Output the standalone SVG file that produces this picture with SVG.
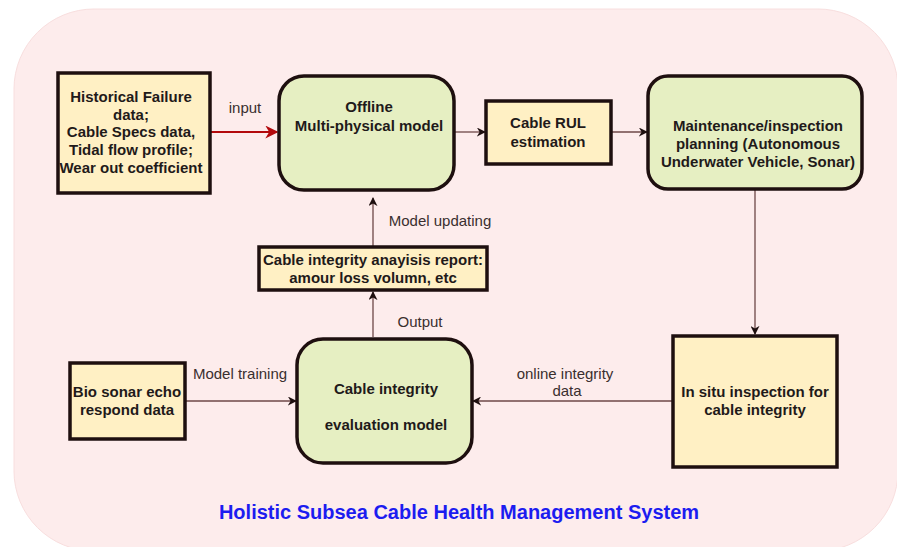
<svg xmlns="http://www.w3.org/2000/svg" width="897" height="547" viewBox="0 0 897 547">
<defs>
<style>
.bg{fill:#fdecec;stroke:#f8dede;stroke-width:1}
.box{fill:#fff0c4;stroke:#1e0f0f;stroke-width:3.5}
.rbox{fill:#e6efc2;stroke:#1e0f0f;stroke-width:3.5}
.t{font-family:"Liberation Sans",Arial,sans-serif;font-size:15px;font-weight:bold;fill:#1f1a1a;text-anchor:middle}
.l{font-family:"Liberation Sans",Arial,sans-serif;font-size:15px;fill:#3a2f2f;text-anchor:middle}
.c{fill:none;stroke:#6e4848;stroke-width:1.3}
.title{font-family:"Liberation Sans",Arial,sans-serif;font-size:20px;font-weight:bold;fill:#1c1cf0;text-anchor:middle}
</style>
<marker id="ah" viewBox="0 0 10 10" refX="9" refY="5" markerWidth="9" markerHeight="9" markerUnits="userSpaceOnUse" orient="auto">
<path d="M0,0 L10,5 L0,10 L3,5 Z" fill="#1e0f0f"/>
</marker>
<marker id="ahr" viewBox="0 0 10 10" refX="9" refY="5" markerWidth="13" markerHeight="13" markerUnits="userSpaceOnUse" orient="auto">
<path d="M0,0 L10,5 L0,10 L3,5 Z" fill="#b3090c"/>
</marker>
</defs>
<rect class="bg" x="14" y="9" width="884" height="542" rx="80" ry="80"/>
<g id="connectors">
<line x1="211" y1="132" x2="277" y2="132" stroke="#b3090c" stroke-width="2.2" marker-end="url(#ahr)"/>
<line class="c" x1="455" y1="132" x2="485" y2="132" marker-end="url(#ah)"/>
<line class="c" x1="612" y1="132" x2="647" y2="132" marker-end="url(#ah)"/>
<line class="c" x1="755" y1="190" x2="755" y2="334" marker-end="url(#ah)"/>
<line class="c" x1="672" y1="401" x2="473" y2="401" marker-end="url(#ah)"/>
<line class="c" x1="186" y1="401" x2="296" y2="401" marker-end="url(#ah)"/>
<line class="c" x1="373" y1="337" x2="373" y2="292" marker-end="url(#ah)"/>
<line class="c" x1="373" y1="246" x2="373" y2="198" marker-end="url(#ah)"/>
<text class="l" x="245" y="113">input</text>
<text class="l" x="440" y="226">Model updating</text>
<text class="l" x="420" y="327">Output</text>
<text class="l" x="240" y="379">Model training</text>
<text class="l" x="565" y="379">online integrity</text>
<text class="l" x="567" y="396">data</text>
</g>
<g id="historical">
<rect class="box" x="58" y="73" width="152" height="120"/>
<text class="t" x="131" y="102">Historical Failure</text>
<text class="t" x="131" y="119.5">data;</text>
<text class="t" x="131" y="137">Cable Specs data,</text>
<text class="t" x="131" y="155">Tidal flow profile;</text>
<text class="t" x="131" y="172.5">Wear out coefficient</text>
</g>
<g id="offline">
<rect class="rbox" x="279" y="76" width="175" height="114" rx="25" ry="25"/>
<text class="t" x="369" y="112">Offline</text>
<text class="t" x="369" y="131">Multi-physical model</text>
</g>
<g id="rul">
<rect class="box" x="486" y="101" width="125" height="63"/>
<text class="t" x="548" y="128">Cable RUL</text>
<text class="t" x="548" y="147">estimation</text>
</g>
<g id="maintenance">
<rect class="rbox" x="648" y="76" width="214" height="113" rx="20" ry="20"/>
<text class="t" x="758" y="131">Maintenance/inspection</text>
<text class="t" x="758" y="149">planning (Autonomous</text>
<text class="t" x="758" y="167">Underwater Vehicle, Sonar)</text>
</g>
<g id="report">
<rect class="box" x="259" y="247" width="228" height="43"/>
<text class="t" x="373" y="265">Cable integrity anayisis report:</text>
<text class="t" x="373" y="283">amour loss volumn, etc</text>
</g>
<g id="insitu">
<rect class="box" x="673" y="336" width="164" height="131"/>
<text class="t" x="755" y="397">In situ inspection for</text>
<text class="t" x="755" y="415">cable integrity</text>
</g>
<g id="evaluation">
<rect class="rbox" x="297" y="339" width="175" height="124" rx="26" ry="26"/>
<text class="t" x="386" y="394">Cable integrity</text>
<text class="t" x="386" y="430">evaluation model</text>
</g>
<g id="biosonar">
<rect class="box" x="70" y="363" width="115" height="76"/>
<text class="t" x="127" y="397">Bio sonar echo</text>
<text class="t" x="127" y="415">respond data</text>
</g>
<text class="title" x="459" y="519">Holistic Subsea Cable Health Management System</text>
</svg>
